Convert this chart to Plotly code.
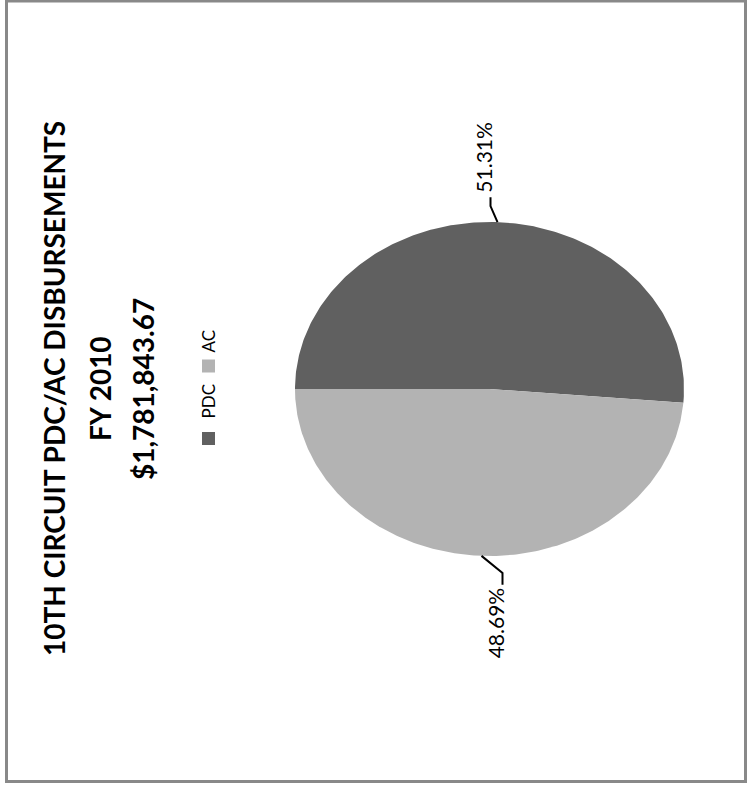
import math
import plotly.graph_objects as go

# ---- data ----
categories = ["PDC", "AC"]
shares = [51.31, 48.69]          # percent of disbursements
colors = ["#606060", "#b3b3b3"]
title_lines = ["10TH CIRCUIT PDC/AC DISBURSEMENTS", "FY 2010", "$1,781,843.67"]

W, H = 748, 786
cx, cy, a, b = 489.5, 389.0, 194.5, 167.0   # ellipse (pixel space)
start_angle = 180.0
FONT = "Lato, Carlito, Calibri, Liberation Sans"

fig = go.Figure()

total = sum(shares)
ang = start_angle
mids = []
for cat, val, col in zip(categories, shares, colors):
    sweep = 360.0 * val / total
    end = ang - sweep
    n = 240
    xs, ys = [cx], [cy]
    for i in range(n + 1):
        t = math.radians(ang + (end - ang) * i / n)
        xs.append(cx + a * math.cos(t))
        ys.append(cy - b * math.sin(t))
    xs.append(cx); ys.append(cy)
    fig.add_trace(go.Scatter(x=xs, y=ys, mode="lines", fill="toself", fillcolor=col,
                             line=dict(width=0, color=col), hoverinfo="skip", showlegend=False))
    mids.append((val, math.radians((ang + end) / 2)))
    ang = end

# leader lines + labels
offsets = [((-7, -16), (0, -9), (-7, -40)), ((21, 17), (0, 12), (-7, 38))]
for (val, t), (d1, d2, lab) in zip(mids, offsets):
    px, py = cx + a * math.cos(t), cy - b * math.sin(t)
    x1, y1 = px + d1[0], py + d1[1]
    x2, y2 = x1 + d2[0], y1 + d2[1]
    fig.add_trace(go.Scatter(x=[px, x1, x2], y=[py, y1, y2], mode="lines",
                             line=dict(color="black", width=2), hoverinfo="skip", showlegend=False))
    fig.add_annotation(x=x2 + lab[0], y=y2 + lab[1], text=f"{val:.2f}%", textangle=-90,
                       showarrow=False, font=dict(family=FONT, size=21, color="black"),
                       xanchor="center", yanchor="middle")

# title
title_x = [54, 100, 143]
for tx, line in zip(title_x, title_lines):
    fig.add_annotation(x=tx, y=389, text=f"<b>{line}</b>", textangle=-90, showarrow=False,
                       font=dict(family=FONT, size=28, color="black"),
                       xanchor="center", yanchor="middle")

# legend
sq_y = [438.5, 366]
txt_y = [401.5, 341.5]
fig.add_trace(go.Scatter(x=[208.5, 208.5], y=sq_y, mode="markers",
                         marker=dict(symbol="square", size=13, color=colors, line=dict(width=0)),
                         hoverinfo="skip", showlegend=False))
for ty, cat in zip(txt_y, categories):
    fig.add_annotation(x=208, y=ty, text=cat, textangle=-90, showarrow=False,
                       font=dict(family=FONT, size=17, color="black"),
                       xanchor="center", yanchor="middle")

# border
fig.add_shape(type="rect", xref="x", yref="y", x0=6.5, x1=745.5, y0=1, y1=781.5,
              line=dict(color="#898989", width=3), layer="above")

fig.update_layout(width=W, height=H, margin=dict(l=0, r=0, t=0, b=0, pad=0),
                  paper_bgcolor="white", plot_bgcolor="white",
                  xaxis=dict(range=[0, W], visible=False, fixedrange=True),
                  yaxis=dict(range=[H, 0], visible=False, fixedrange=True))
fig.write_html("out.html", config={"displayModeBar": False},
               post_script="document.body.style.margin='0';")
